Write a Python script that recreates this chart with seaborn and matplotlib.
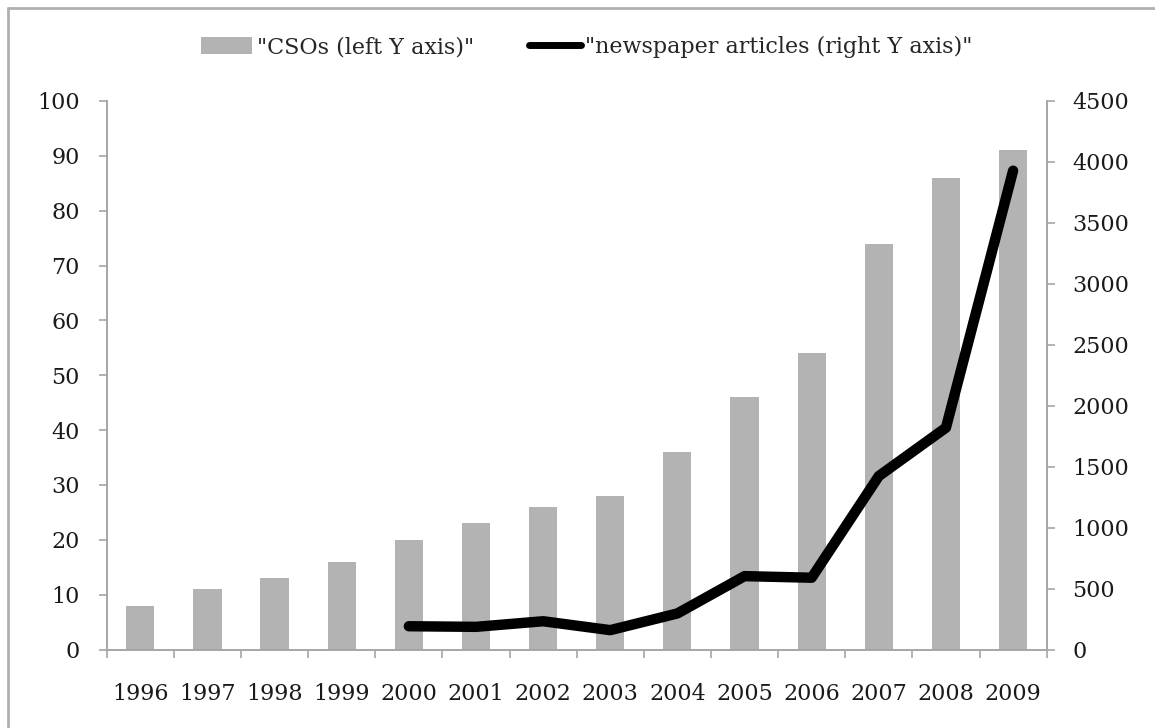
import matplotlib
matplotlib.use("Agg")
import matplotlib.pyplot as plt
import seaborn as sns
import pandas as pd
from matplotlib.lines import Line2D

# Civil society organisations per year (left axis)
years = [1996, 1997, 1998, 1999, 2000, 2001, 2002, 2003, 2004, 2005, 2006, 2007, 2008, 2009]
cso_counts = [8, 11, 13, 16, 20, 23, 26, 28, 36, 46, 54, 74, 86, 91]

# Newspaper articles per year (right axis)
article_years = [2000, 2001, 2002, 2003, 2004, 2005, 2006, 2007, 2008, 2009]
article_counts = [191, 186, 232, 159, 296, 602, 589, 1423, 1820, 3928]

left_ticks = [0, 10, 20, 30, 40, 50, 60, 70, 80, 90, 100]
right_ticks = [0, 500, 1000, 1500, 2000, 2500, 3000, 3500, 4000, 4500]

cso_label = '"CSOs (left Y axis)"'
article_label = '"newspaper articles (right Y axis)"'

sns.set_theme(style="white")
plt.rcParams["font.family"] = ["DejaVu Serif"]
plt.rcParams["axes.unicode_minus"] = False

axis_grey = "#a6a6a6"
bar_grey = "#b3b3b3"

cso_df = pd.DataFrame({"year": years, "csos": cso_counts})
art_df = pd.DataFrame({"year": article_years, "articles": article_counts})

fig = plt.figure(figsize=(11.55, 7.28), dpi=100)
ax = fig.add_axes([0.0924, 0.1078, 0.8138, 0.7535])

sns.barplot(data=cso_df, x="year", y="csos", native_scale=True, width=0.42,
            color=bar_grey, saturation=1, errorbar=None, ax=ax, linewidth=0)

ax2 = ax.twinx()
sns.lineplot(data=art_df, x="year", y="articles", ax=ax2, color="black",
             linewidth=7.5, solid_capstyle="round", solid_joinstyle="round",
             legend=False)

# x axis: year labels at bar centres, tick marks between categories
ax.set_xlim(years[0] - 0.5, years[-1] + 0.5)
ax.set_xticks(years)
ax.set_xticklabels([str(y) for y in years])
ax.set_xticks([y - 0.5 for y in years] + [years[-1] + 0.5], minor=True)
ax.tick_params(axis="x", which="major", length=0, pad=24, labelsize=16, colors="#1a1a1a")
ax.tick_params(axis="x", which="minor", length=5.5, width=1.2, color=axis_grey, bottom=True)

ax.set_ylim(0, 100)
ax.set_yticks(left_ticks)
ax.tick_params(axis="y", which="major", length=5.5, width=1.2, color=axis_grey,
               pad=14, labelsize=16, labelcolor="#1a1a1a", left=True)

ax2.set_ylim(0, 4500)
ax2.set_yticks(right_ticks)
ax2.tick_params(axis="y", which="major", length=5.5, width=1.2, color=axis_grey,
                pad=13, labelsize=16, labelcolor="#1a1a1a", right=True)

for a in (ax, ax2):
    a.set_xlabel("")
    a.set_ylabel("")
    a.spines["top"].set_visible(False)
    for s in a.spines.values():
        s.set_color(axis_grey)
        s.set_linewidth(1.4)
ax.spines["right"].set_visible(False)
ax2.spines["left"].set_visible(False)
ax2.spines["bottom"].set_visible(False)

# Legend across the top
handles = [
    matplotlib.patches.Patch(facecolor=bar_grey, edgecolor="none"),
    Line2D([0], [0], color="black", linewidth=5),
]
fig.legend(handles, [cso_label, article_label], loc="center",
           bbox_to_anchor=(0.508, 0.935), ncol=2, frameon=False,
           fontsize=16, handlelength=2.3, handletextpad=0.2, columnspacing=2.5,
           handleheight=0.75)

# Thin grey frame around the chart area
fig.add_artist(Line2D([8 / 1155, 1.01], [1 - 8 / 728, 1 - 8 / 728],
                      transform=fig.transFigure, color="#b0b0b0", linewidth=2))
fig.add_artist(Line2D([8 / 1155, 8 / 1155], [-0.01, 1 - 8 / 728],
                      transform=fig.transFigure, color="#b0b0b0", linewidth=2))

fig.savefig("out.png", dpi=100, facecolor="white")
